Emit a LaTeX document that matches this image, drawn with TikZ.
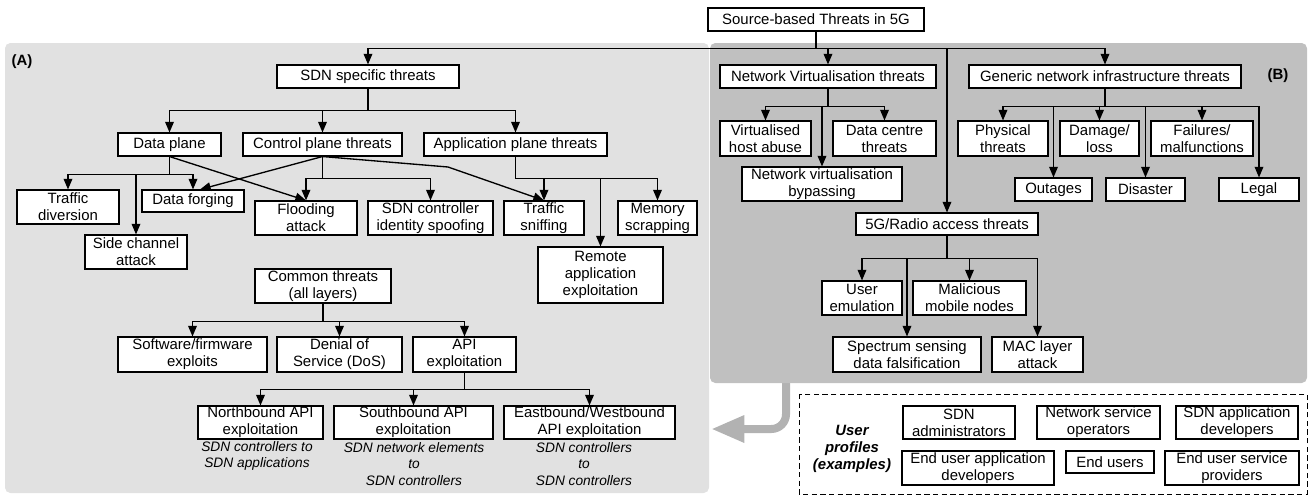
\documentclass[tikz,border=0pt]{standalone}
\usepackage{fontspec}
\setmainfont{Liberation Sans}
\usetikzlibrary{arrows.meta,calc}

\definecolor{panelA}{RGB}{225,225,225}
\definecolor{panelB}{RGB}{192,192,192}
\definecolor{backarrow}{RGB}{178,178,178}

\begin{document}
\begin{tikzpicture}[x=0.75pt, y=-0.75pt, >={Triangle[length=8pt,width=6.5pt]},
  box/.style 2 args={draw, fill=white, line width=0.8pt, inner sep=0pt, align=center,
    minimum width=#1*0.75pt, minimum height=#2*0.75pt, font=\fontsize{11.2}{12.8}\selectfont},
  link/.style={->, line width=1pt},
  note/.style={align=center, font=\fontsize{10.3}{12.5}\selectfont\itshape},
  tag/.style={align=center, font=\fontsize{11.2}{12.8}\selectfont\bfseries}]
  % page frame, 1310 x 496 px
  \useasboundingbox (0,0) rectangle (1310,496);

  % (A) and (B) panels
  \fill[panelA, rounded corners=4pt] (5,43) rectangle (709,493);
  \draw[backarrow, line width=6pt, rounded corners=11pt, -{Triangle[length=25pt,width=19pt]}]
    (786,375) -- (786,429) -- (711,429);
  \fill[panelB, rounded corners=4pt] (710,43) rectangle (1307,383);
  \draw[dash pattern=on 4pt off 2.5pt, line width=0.7pt] (799,394) rectangle (1307,494);

  \node[tag] (la) at (22,62) {(A)};
  \node[tag] (lb) at (1278,76) {(B)};

  % Root
  \node[box={216}{23}] (src) at (816,19.5) {Source-based Threats in 5G};

  % SDN specific threats
  \node[box={182}{23}] (sdn) at (368,76.5) {SDN specific threats};
  \node[box={103}{23}] (dp) at (169.5,144.5) {Data plane};
  \node[box={159}{23}] (cp) at (322.5,144.5) {Control plane threats};
  \node[box={183}{23}] (ap) at (515.5,144.5) {Application plane threats};
  \node[box={102}{34}] (td) at (68,207) {Traffic\\diversion};
  \node[box={102}{22}] (df) at (193,201) {Data forging};
  \node[box={102}{34}] (sc) at (136,252) {Side channel\\attack};
  \node[box={102}{34}] (fl) at (306,218) {Flooding\\attack};
  \node[box={125}{34}] (sid) at (430.5,218) {SDN controller\\identity spoofing};
  \node[box={80}{34}] (ts) at (544,218) {Traffic\\sniffing};
  \node[box={79}{34}] (ms) at (657.5,218) {Memory\\scrapping};
  \node[box={125}{56}] (rae) at (600.5,275) {Remote\\application\\exploitation};

  % Common threats
  \node[box={136}{34}] (ct) at (323,286) {Common threats\\(all layers)};
  \node[box={149}{35}] (sw) at (192.5,354.5) {Software/firmware\\exploits};
  \node[box={125}{35}] (dos) at (339.5,354.5) {Denial of\\Service (DoS)};
  \node[box={103}{35}] (api) at (464.5,354.5) {API\\exploitation};
  \node[box={125}{33}] (nb) at (260.5,422.5) {Northbound API\\exploitation};
  \node[box={159}{33}] (sb) at (413.5,422.5) {Southbound API\\exploitation};
  \node[box={171}{33}] (eb) at (589.5,422.5) {Eastbound/Westbound\\API exploitation};
  \node[note] (nbn) at (257,456) {SDN controllers to\\SDN applications};
  \node[note] (sbn) at (414,464) {SDN network elements\\to\\SDN controllers};
  \node[note] (ebn) at (584,464) {SDN controllers\\to\\SDN controllers};

  % Network virtualisation
  \node[box={216}{23}] (nv) at (828,76.5) {Network Virtualisation threats};
  \node[box={91}{35}] (vha) at (765.5,138.5) {Virtualised\\host abuse};
  \node[box={103}{35}] (dct) at (884.5,138.5) {Data centre\\threats};
  \node[box={160}{34}] (nvb) at (822,184) {Network virtualisation\\bypassing};

  % Generic infrastructure
  \node[box={272}{23}] (gen) at (1105,76.5) {Generic network infrastructure threats};
  \node[box={90}{35}] (phy) at (1003,138.5) {Physical\\threats};
  \node[box={79}{35}] (dmg) at (1099.5,138.5) {Damage/\\loss};
  \node[box={102}{35}] (fail) at (1202,138.5) {Failures/\\malfunctions};
  \node[box={77}{23}] (out) at (1053.5,189.5) {Outages};
  \node[box={79}{23}] (dis) at (1145.5,189.5) {Disaster};
  \node[box={80}{23}] (legal) at (1259,189.5) {Legal};

  % 5G / radio access
  \node[box={182}{22}] (g5) at (947,224) {5G/Radio access threats};
  \node[box={80}{34}] (ue) at (862,298) {User\\emulation};
  \node[box={113}{34}] (mmn) at (969.5,298) {Malicious\\mobile nodes};
  \node[box={148}{35}] (ssd) at (907,354.5) {Spectrum sensing\\data falsification};
  \node[box={91}{35}] (mac) at (1037.5,354.5) {MAC layer\\attack};

  % User profiles
  \node[tag, font=\fontsize{11.2}{12.8}\selectfont\bfseries\itshape] (up) at (852,449) {User\\profiles\\(examples)};
  \node[box={112}{33}] (p1) at (959,422.5) {SDN\\administrators};
  \node[box={123}{33}] (p2) at (1098.5,422.5) {Network service\\operators};
  \node[box={122}{33}] (p3) at (1237,422.5) {SDN application\\developers};
  \node[box={152}{34}] (p4) at (978,468) {End user application\\developers};
  \node[box={88}{22}] (p5) at (1110,462) {End users};
  \node[box={134}{34}] (p6) at (1232,468) {End user service\\providers};

  % Tree connectors
  \foreach \c in {sdn,nv,g5,gen} \draw[link] (src.south) -- ++(0,17) -| (\c.north);
  \foreach \c in {dp,cp,ap} \draw[link] (sdn.south) -- ++(0,22) -| (\c.north);
  \foreach \c in {td,sc,df} \draw[link] (dp.south) -- ++(0,18) -| (\c.north);
  \foreach \c in {fl,sid} \draw[link] (cp.south) -- ++(0,22) -| (\c.north);
  \foreach \c in {ts,rae,ms} \draw[link] (ap.south) -- ++(0,22) -| (\c.north);
  \foreach \c in {sw,dos,api} \draw[link] (ct.south) -- ++(0,18) -| (\c.north);
  \foreach \c in {nb,sb,eb} \draw[link] (api.south) -- ++(0,17) -| (\c.north);
  \foreach \c in {vha,nvb,dct} \draw[link] (nv.south) -- ++(0,18) -| (\c.north);
  \foreach \c in {phy,out,dmg,dis,fail,legal} \draw[link] (gen.south) -- ++(0,18) -| (\c.north);
  \foreach \c in {ue,ssd,mmn,mac} \draw[link] (g5.south) -- ++(0,23) -| (\c.north);

  % Cross links between planes
  \draw[link] (dp.south) -- (fl.north);
  \draw[link] (cp.south) -- ($(df.north)+(7,0)$);
  \coordinate (kink) at (448,167);
  \draw[link] (cp.south) -- (kink) -- (ts.north);
\end{tikzpicture}
\end{document}
